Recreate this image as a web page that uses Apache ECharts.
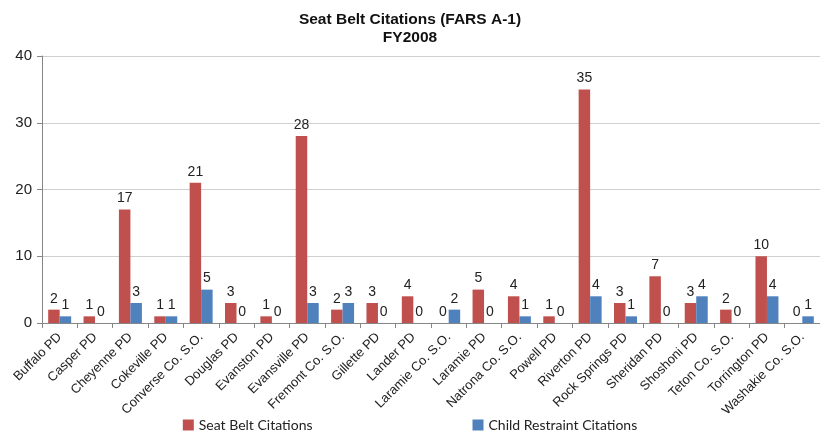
<!DOCTYPE html>
<html><head><meta charset="utf-8">
<script src="https://cdn.jsdelivr.net/npm/echarts@6/dist/echarts.min.js"></script>
<style>html,body{margin:0;padding:0;background:#fff}#c{width:820px;height:437px}</style>
</head><body><div id="c"></div>
<script>
const categories = ["Buffalo PD","Casper PD","Cheyenne PD","Cokeville PD","Converse Co. S.O.","Douglas PD","Evanston PD","Evansville PD","Fremont Co. S.O.","Gillette PD","Lander PD","Laramie Co. S.O.","Laramie PD","Natrona Co. S.O.","Powell PD","Riverton PD","Rock Springs PD","Sheridan PD","Shoshoni PD","Teton Co. S.O.","Torrington PD","Washakie Co. S.O."];
const seatBelt = [2,1,17,1,21,3,1,28,2,3,4,0,5,4,1,35,3,7,3,2,10,0];
const childRestraint = [1,0,3,1,5,0,0,3,3,0,0,2,0,1,0,4,1,0,4,0,4,1];
const yTicks = [0,10,20,30,40];

const chart = echarts.init(document.getElementById('c'));
const labelStyle = {show:true, position:'top', distance:4, color:'#222', fontSize:14, fontFamily:'Liberation Sans, Arial, sans-serif'};
chart.setOption({
  animation:false,
  backgroundColor:'#fff',
  title:{
    text:'Seat Belt Citations (FARS A-1)\nFY2008',
    left:'center', top:6,
    textStyle:{fontSize:15.5, fontWeight:'bold', color:'#111', lineHeight:18, fontFamily:'Liberation Sans Narrow, Arial Narrow, Liberation Sans, sans-serif'}
  },
  legend:{
    bottom:0, left:'center', itemGap:160, itemWidth:11, itemHeight:11, icon:'rect',
    textStyle:{fontSize:14, color:'#222', fontFamily:'Lato, Open Sans, sans-serif'},
    data:['Seat Belt Citations','Child Restraint Citations']
  },
  grid:{left:42, right:-12, top:56, bottom:114, containLabel:false},
  xAxis:{
    type:'category', data:categories,
    axisLine:{lineStyle:{color:'#868686'}},
    axisTick:{show:true, alignWithLabel:false, length:5, lineStyle:{color:'#868686'}},
    axisLabel:{rotate:45, interval:0, margin:12, fontSize:13, color:'#222', fontFamily:'Liberation Sans, Arial, sans-serif'}
  },
  yAxis:{
    type:'value', min:yTicks[0], max:yTicks[yTicks.length-1], interval:10,
    axisLine:{show:true, lineStyle:{color:'#868686'}},
    axisTick:{show:true, length:5, lineStyle:{color:'#868686'}},
    axisLabel:{fontSize:15, color:'#222', margin:10, fontFamily:'Liberation Sans, Arial, sans-serif'},
    splitLine:{lineStyle:{color:'#d0d0d0'}}
  },
  series:[
    {name:'Seat Belt Citations', type:'bar', data:seatBelt, barWidth:'32.5%', barGap:'0%',
     itemStyle:{color:'#C0504D'}, label:labelStyle},
    {name:'Child Restraint Citations', type:'bar', data:childRestraint, barWidth:'32.5%', barGap:'0%',
     itemStyle:{color:'#4F81BD'}, label:labelStyle}
  ]
});
</script></body></html>
